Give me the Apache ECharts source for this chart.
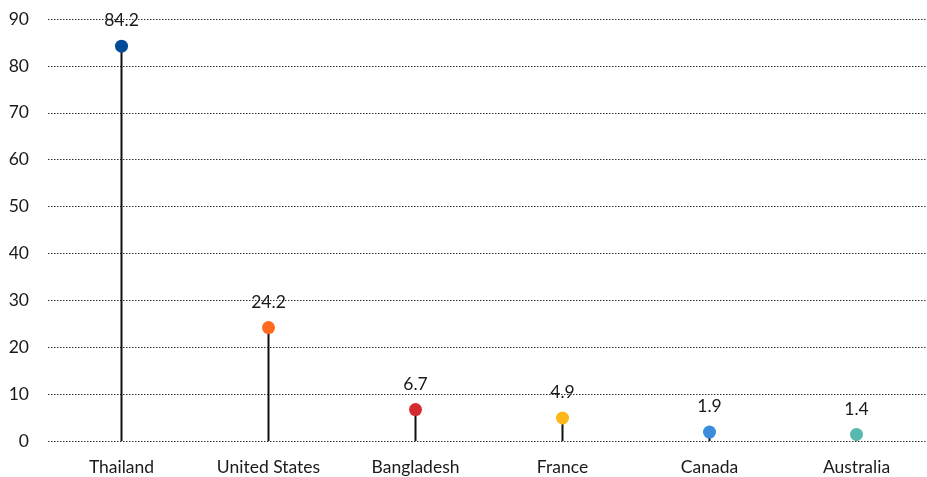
<!DOCTYPE html>
<html>
<head>
<meta charset="utf-8">
<script src="https://cdn.jsdelivr.net/npm/echarts@6/dist/echarts.min.js"></script>
<style>
  html, body { margin: 0; padding: 0; background: #fff; overflow: hidden; }
  #chart { width: 935px; height: 477px; }
</style>
</head>
<body>
<div id="chart"></div>
<script>
// Countries and their values, one colour per dot
const countries = ['Thailand', 'United States', 'Bangladesh', 'France', 'Canada', 'Australia'];
const values = [84.2, 24.2, 6.7, 4.9, 1.9, 1.4];
const dotColors = ['#004b97', '#ff6b1e', '#d62a32', '#fdb71a', '#3a8ddd', '#57b8b0'];
const yTicks = [0, 10, 20, 30, 40, 50, 60, 70, 80, 90];

const FONT = 'Lato, "Open Sans", sans-serif';

const chart = echarts.init(document.getElementById('chart'), null, { renderer: 'canvas' });

chart.setOption({
  animation: false,
  grid: { left: 48, right: 5, top: 19, bottom: 36, containLabel: false },
  xAxis: {
    type: 'category',
    data: countries,
    boundaryGap: true,
    axisLine: { show: false },
    axisTick: { show: false },
    axisLabel: { color: '#1a1a1a', fontSize: 17.5, fontFamily: FONT, margin: 17 }
  },
  yAxis: {
    type: 'value',
    min: yTicks[0],
    max: yTicks[yTicks.length - 1],
    interval: 10,
    axisLine: { show: false },
    axisTick: { show: false },
    axisLabel: { color: '#1a1a1a', fontSize: 17.5, fontFamily: FONT, margin: 19 },
    splitLine: { show: true, lineStyle: { type: [1.5, 1.5], color: '#333', width: 1 } }
  },
  series: [
    {
      // stems from zero up to each value
      type: 'bar',
      data: values,
      barWidth: 2,
      itemStyle: { color: '#111' },
      z: 2
    },
    {
      // value dots with labels
      type: 'scatter',
      data: values.map((v, i) => ({ value: v, itemStyle: { color: dotColors[i], opacity: 1 } })),
      symbol: 'circle',
      symbolSize: 13,
      itemStyle: { opacity: 1 },
      label: {
        show: true,
        position: 'top',
        distance: 10,
        color: '#1a1a1a',
        fontSize: 17.5,
        fontFamily: FONT,
        formatter: p => p.value.toFixed(1)
      },
      z: 3
    }
  ]
});
</script>
</body>
</html>
